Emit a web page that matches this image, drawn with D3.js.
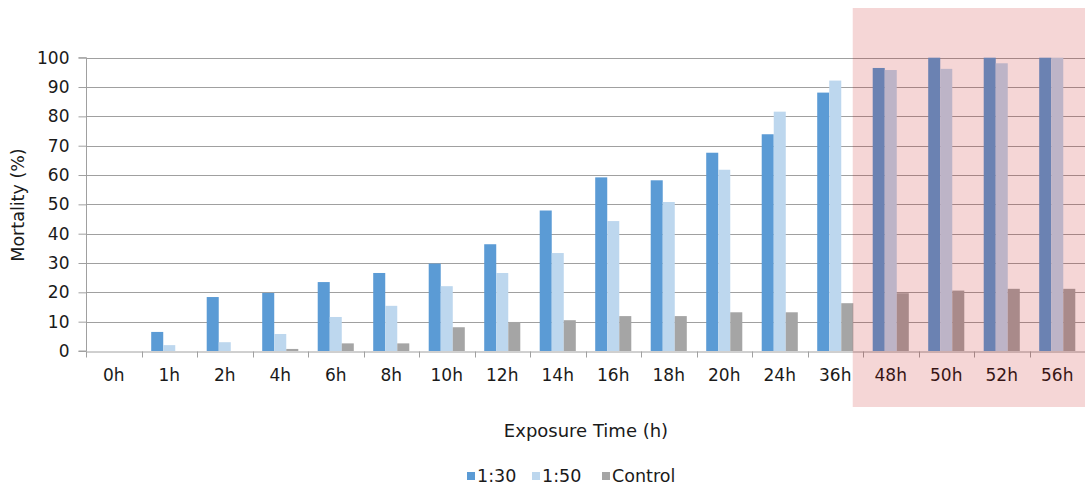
<!DOCTYPE html>
<html><head><meta charset="utf-8">
<script src="https://cdn.jsdelivr.net/npm/d3@7"></script>
<style>body{margin:0;background:#fff;}svg{display:block;font-family:"DejaVu Sans",Verdana,sans-serif;}</style>
</head><body><svg id="c" width="1085" height="485"></svg>
<script>
const categories = ["0h","1h","2h","4h","6h","8h","10h","12h","14h","16h","18h","20h","24h","36h","48h","50h","52h","56h"];
const seriesNames = ["1:30","1:50","Control"];
const s130 = [0,6.5,18.4,19.8,23.5,26.6,29.8,36.4,47.9,59.2,58.2,67.6,73.9,88.1,96.5,100,100,100];
const s150 = [0,2,3,5.8,11.6,15.4,22.1,26.6,33.4,44.3,50.8,61.8,81.6,92.2,95.8,96.2,98.1,100];
const sCtrl = [0,0,0,0.7,2.6,2.6,8.1,9.9,10.5,11.9,11.9,13.2,13.2,16.3,19.7,20.6,21.2,21.2];
const yTicks = [0,10,20,30,40,50,60,70,80,90,100];
const highlighted = ["48h","50h","52h","56h"];
const colors = ["#5b9bd5","#bdd7ee","#a5a5a5"];

(function(){
const svg = d3.select("#c");
const pL = 86, pR = 1085, pT = 57.7, pB = 351;
const FONT = "DejaVu Sans, Verdana, sans-serif";
const TXT = "#1a1a1a";
const x = d3.scaleBand().domain(categories).range([pL, pR]).paddingInner(0).paddingOuter(0);
const y = d3.scaleLinear().domain([0,100]).range([pB, pT]);
const inner = d3.scaleBand().domain(seriesNames).range([x.bandwidth()*0.175, x.bandwidth()*0.825]);

// gridlines
svg.append("g").selectAll("line").data(yTicks.filter(d=>d>0)).join("line")
  .attr("x1", pL).attr("x2", pR).attr("y1", d=>Math.round(y(d))+0.5).attr("y2", d=>Math.round(y(d))+0.5)
  .attr("stroke", "#a0a0a0").attr("stroke-width", 1);

// bars
const data = categories.map((c,i)=>({c, vals:[s130[i], s150[i], sCtrl[i]]}));
const grp = svg.append("g").selectAll("g").data(data).join("g").attr("transform", d=>`translate(${x(d.c)},0)`);
grp.selectAll("rect").data(d=>d.vals.map((v,j)=>({v, s:seriesNames[j], j}))).join("rect")
  .attr("x", d=>inner(d.s)).attr("width", inner.bandwidth())
  .attr("y", d=>y(d.v)).attr("height", d=>pB - y(d.v))
  .attr("fill", d=>colors[d.j]);

// y axis
const yAxis = d3.axisLeft(y).tickValues(yTicks).tickSize(8).tickPadding(9);
const ya = svg.append("g").attr("transform", `translate(${pL+0.5},0)`).call(yAxis);
ya.select(".domain").attr("stroke", "#a0a0a0").attr("d", `M-8,${y(100)}H0V${pB}H-8`);
ya.selectAll(".tick line").attr("stroke", "#a0a0a0");
ya.selectAll("text").attr("font-size", 17).attr("fill", TXT).attr("font-family", FONT);

// x axis
const xa = svg.append("g").attr("transform", `translate(0,${Math.round(pB)+0.5})`)
  .call(d3.axisBottom(x).tickSize(0).tickPadding(17));
xa.select(".domain").attr("stroke", "#a0a0a0");
xa.selectAll("text").attr("font-size", 17).attr("fill", TXT).attr("font-family", FONT);
xa.selectAll(".bnd").data(categories.concat(["__end"])).join("line").attr("class","bnd")
  .attr("x1", (d,i)=> Math.round(pL + i*x.step())+0.5).attr("x2", (d,i)=> Math.round(pL + i*x.step())+0.5)
  .attr("y1", 0).attr("y2", 6).attr("stroke", "#a0a0a0");

// highlight overlay
const hx = x(highlighted[0]) - x.step()*0.185;
svg.append("rect").attr("x", hx).attr("y", 8).attr("width", 1085 - hx + 5).attr("height", 399)
  .attr("fill", "rgb(190,0,0)").attr("fill-opacity", 0.16);

// axis titles
svg.append("text").attr("transform", `translate(24,205) rotate(-90)`).attr("text-anchor","middle")
  .attr("font-size", 17.5).attr("fill",TXT).text("Mortality (%)");
svg.append("text").attr("x", 586).attr("y", 437).attr("text-anchor","middle")
  .attr("font-size", 18).attr("fill",TXT).text("Exposure Time (h)");

// legend
const legX = [467, 532, 602];
const leg = svg.append("g").selectAll("g").data(seriesNames).join("g").attr("transform", (d,i)=>`translate(${legX[i]},470)`);
leg.append("rect").attr("x",0).attr("y",2).attr("width",8).attr("height",8).attr("fill",(d,i)=>colors[i]);
leg.append("text").attr("x",10).attr("y",12).attr("font-size",17.5).attr("fill",TXT).text(d=>d);
})();
</script></body></html>
